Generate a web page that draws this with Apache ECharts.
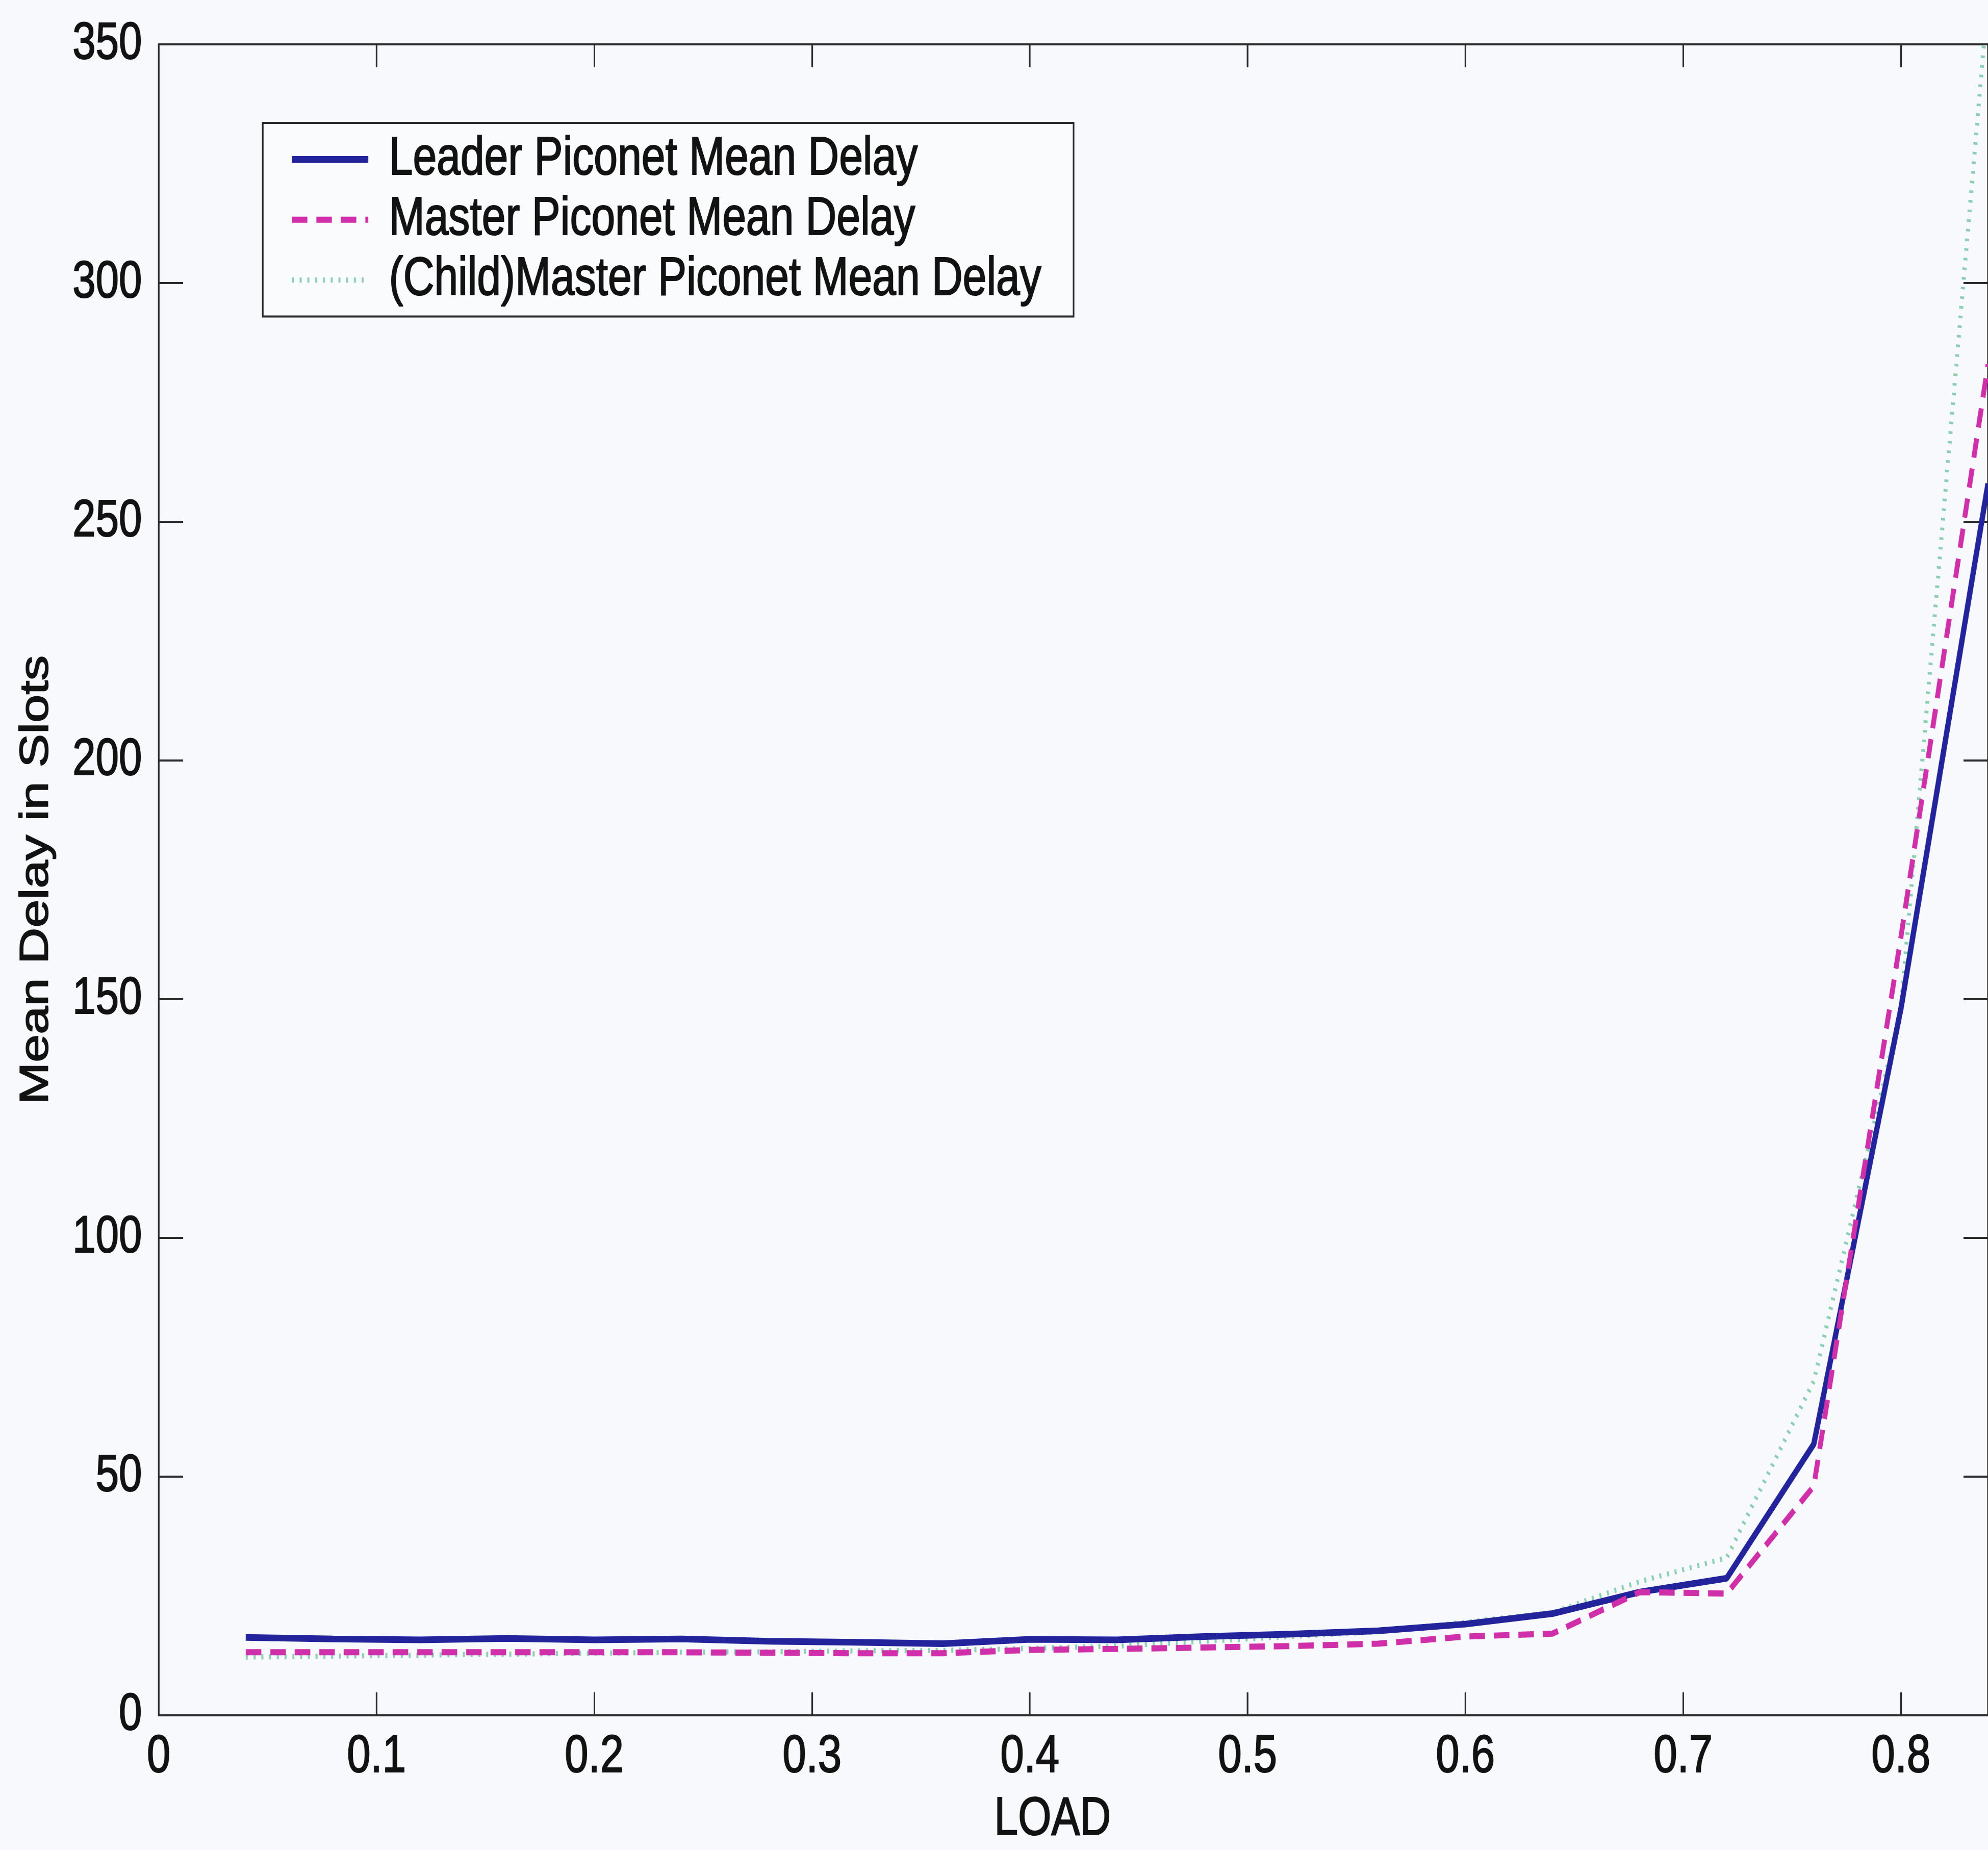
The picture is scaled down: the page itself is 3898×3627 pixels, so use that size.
<!DOCTYPE html>
<html>
<head>
<meta charset="utf-8">
<script src="https://cdn.jsdelivr.net/npm/echarts@6/dist/echarts.min.js"></script>
<style>
  html, body { margin: 0; padding: 0; background: #f7f9fc; overflow: hidden; }
  #chart { position: absolute; left: 0; top: 0; width: 3898px; height: 3627px; overflow: hidden; }
</style>
</head>
<body>
<div id="chart"></div>
<script>
// Offered load per run
const loads = [0.04, 0.08, 0.12, 0.16, 0.20, 0.24, 0.28, 0.32, 0.36, 0.40, 0.44,
               0.48, 0.52, 0.56, 0.60, 0.64, 0.68, 0.72, 0.76, 0.80, 0.84];

// Mean delay (slots) for each piconet role
const leaderDelay = [16.3, 16.0, 15.8, 16.1, 15.8, 16.0, 15.5, 15.3, 15.0, 15.9, 15.8,
                     16.5, 17.0, 17.7, 19.1, 21.3, 25.8, 28.7, 56.8, 148, 258];
const masterDelay = [13.2, 13.2, 13.2, 13.2, 13.2, 13.2, 13.1, 13.0, 13.0, 13.7, 13.9,
                     14.2, 14.5, 15.0, 16.5, 17.1, 25.8, 25.5, 48, 163, 283];
const childMasterDelay = [12.2, 12.4, 12.6, 12.8, 13.0, 13.2, 13.3, 13.5, 13.6, 14.0, 14.5,
                          15.5, 16.5, 17.5, 19.5, 21.5, 28, 33, 70, 148, 360];

const seriesNames = ['Leader Piconet Mean Delay', 'Master Piconet Mean Delay', '(Child)Master Piconet Mean Delay'];

const xMin = 0, xMax = 0.84, xStep = 0.1;
const yMin = 0, yMax = 350, yStep = 50;

// The plot is laid out on a wider drawing surface, then shown squeezed
// horizontally to the page width (condensed print look).
const pageWidth = 3898, drawWidth = 4873, drawHeight = 3627;

const font = "'Liberation Sans', Arial, Helvetica, sans-serif";
const ink = '#121212';
const frame = '#2b2b2b';
const heavyText = { fontFamily: font, color: ink, textBorderColor: ink, textBorderWidth: 2.2 };

const pairs = ys => loads.map((x, i) => [x, ys[i]]);

const dom = document.getElementById('chart');
const chart = echarts.init(dom, null, { renderer: 'canvas', width: drawWidth, height: drawHeight });

const frameLine = { show: true, onZero: false, lineStyle: { color: frame, width: 4 } };
const xTick = { show: true, inside: true, length: 45, lineStyle: { color: frame, width: 4 } };
const yTick = { show: true, inside: true, length: 60, lineStyle: { color: frame, width: 4 } };

chart.setOption({
  backgroundColor: '#f7f9fc',
  animation: false,
  grid: { left: 389, top: 87, right: -18, bottom: 256, containLabel: false },
  legend: {
    orient: 'vertical',
    left: 644,
    top: 241,
    data: seriesNames,
    itemWidth: 187,
    itemHeight: 70,
    itemGap: 11,
    padding: [18, 78, 18, 65],
    borderColor: frame,
    borderWidth: 4,
    borderRadius: 0,
    backgroundColor: '#f9fbfd',
    itemStyle: { color: 'transparent', borderWidth: 0, opacity: 0 },
    lineStyle: { width: 'inherit', type: 'inherit' },
    textStyle: Object.assign({ fontSize: 105, lineHeight: 100, padding: [0, 0, 0, 46] }, heavyText)
  },
  xAxis: [
    {
      type: 'value', position: 'bottom', min: xMin, max: xMax, interval: xStep,
      axisLine: frameLine, axisTick: xTick, splitLine: { show: false },
      axisLabel: Object.assign({ fontSize: 104, margin: 30, showMaxLabel: false }, heavyText),
      name: 'LOAD', nameLocation: 'middle', nameGap: 153,
      nameTextStyle: Object.assign({ fontSize: 105, padding: [0, 102, 0, 0] }, heavyText)
    },
    {
      type: 'value', position: 'top', min: xMin, max: xMax, interval: xStep,
      axisLine: frameLine, axisTick: xTick, axisLabel: { show: false }, splitLine: { show: false }
    }
  ],
  yAxis: [
    {
      type: 'value', position: 'left', min: yMin, max: yMax, interval: yStep,
      axisLine: frameLine, axisTick: yTick, splitLine: { show: false },
      axisLabel: Object.assign({ fontSize: 102, margin: 41 }, heavyText),
      name: 'Mean Delay in Slots', nameLocation: 'middle', nameGap: 250, nameRotate: 90,
      nameTextStyle: Object.assign({ fontSize: 99 }, heavyText)
    },
    {
      type: 'value', position: 'right', min: yMin, max: yMax, interval: yStep,
      axisLine: frameLine, axisTick: yTick, axisLabel: { show: false }, splitLine: { show: false }
    }
  ],
  series: [
    {
      name: seriesNames[0], type: 'line', data: pairs(leaderDelay), z: 3,
      showSymbol: false, symbol: 'none', clip: true,
      lineStyle: { color: '#23239c', width: 13, type: 'solid' },
      itemStyle: { color: '#23239c' }
    },
    {
      name: seriesNames[1], type: 'line', data: pairs(masterDelay), z: 4,
      showSymbol: false, symbol: 'none', clip: true,
      lineStyle: { color: '#cf2fa9', width: 12, type: [38, 22] },
      itemStyle: { color: '#cf2fa9' }
    },
    {
      name: seriesNames[2], type: 'line', data: pairs(childMasterDelay), z: 2,
      showSymbol: false, symbol: 'none', clip: true,
      lineStyle: { color: '#8ccfb2', width: 10, type: [5, 14] },
      itemStyle: { color: '#8ccfb2' }
    }
  ]
});

// Show the drawing surface at page width (horizontal squeeze only).
const surface = dom.firstElementChild;
if (surface) surface.style.width = pageWidth + 'px';
dom.querySelectorAll('canvas').forEach(c => {
  c.style.width = pageWidth + 'px';
  c.style.height = drawHeight + 'px';
});
</script>
</body>
</html>
